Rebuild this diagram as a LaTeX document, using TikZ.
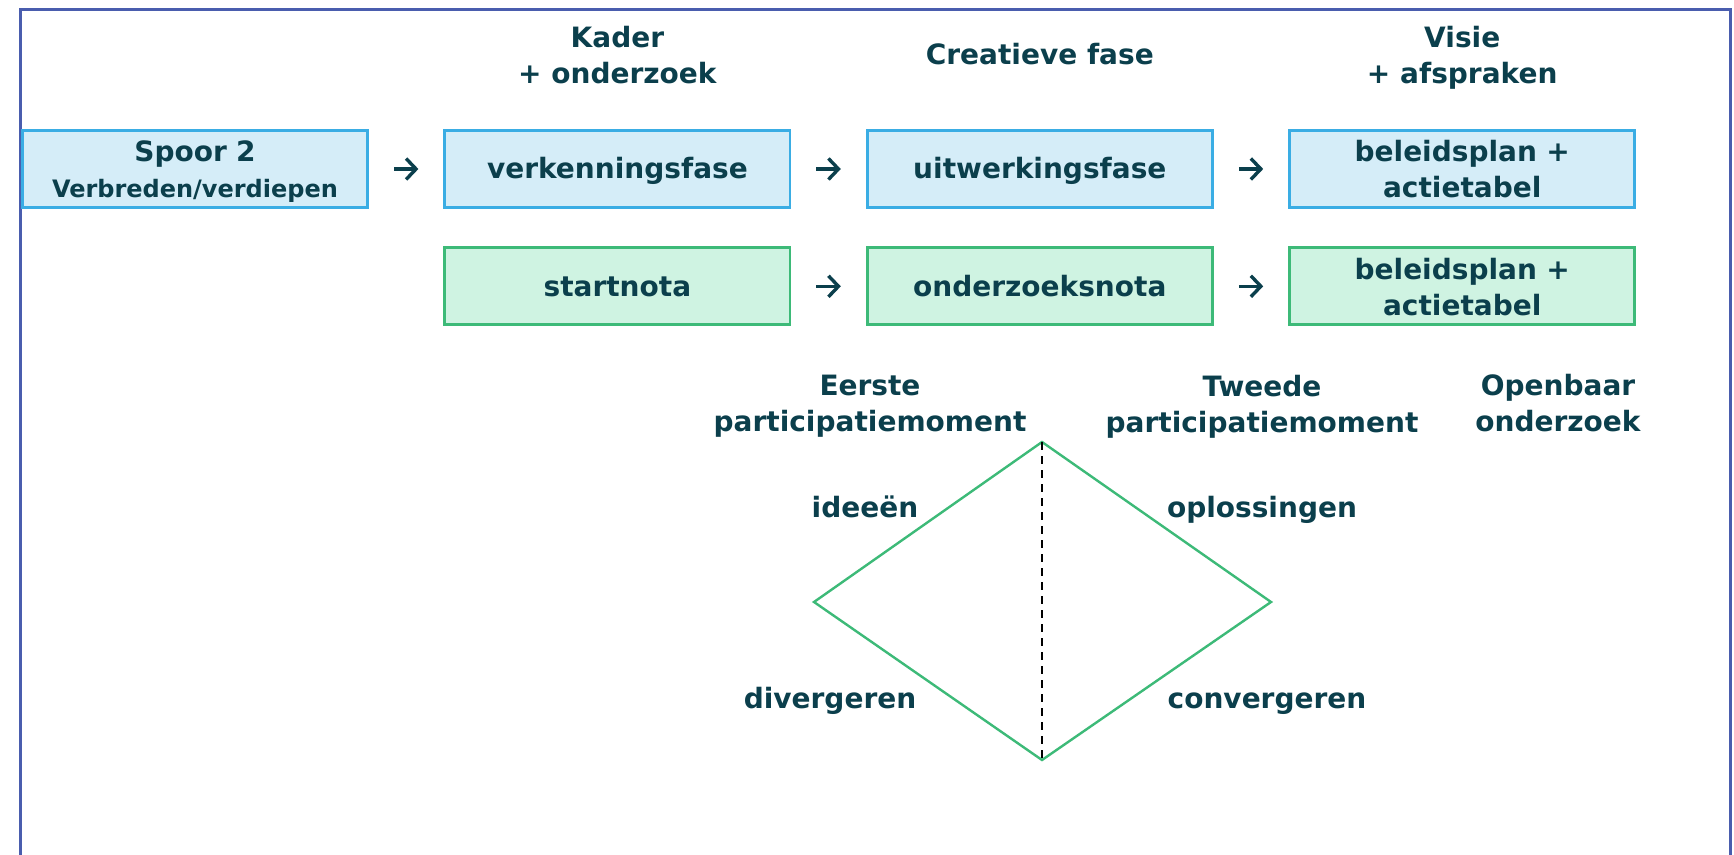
\documentclass[tikz,border=0pt]{standalone}
\usepackage{fontspec}
\setmainfont{DejaVu Sans}
\usepackage{xcolor}
\usepackage{tikz}
\usetikzlibrary{arrows.meta, positioning}
\definecolor{tealtext}{HTML}{0B3F4C}
\definecolor{blueline}{HTML}{3AADE4}
\definecolor{bluefill}{HTML}{D5EDF8}
\definecolor{greenline}{HTML}{3DBA78}
\definecolor{greenfill}{HTML}{CFF3E2}
\definecolor{framecol}{HTML}{4A5DAE}
\newcommand{\linestrut}{\rule[-3.5pt]{0pt}{17pt}}
\tikzset{
  phase/.style={rectangle, draw=blueline, fill=bluefill, line width=1.4pt,
                minimum width=172.6pt, minimum height=38.5pt, text width=165pt,
                align=center, inner sep=0pt, text=tealtext,
                font=\fontsize{14}{18}\selectfont\bfseries,
                text height=13.5pt, text depth=3.5pt},
  twoline/.style={text height=14.5pt, text depth=21.5pt},
  doc/.style={phase, draw=greenline, fill=greenfill},
  head/.style={align=center, inner sep=0pt, text=tealtext,
               font=\fontsize{14}{18}\selectfont\bfseries,
               execute at begin node=\linestrut, execute at end node=\linestrut},
  arrow/.style={-{Straight Barb[length=5pt, width=10.5pt]}, draw=tealtext,
                line width=1.7pt, shorten <=12.5pt, shorten >=12.5pt},
  diamondline/.style={draw=greenline, line width=1.2pt},
  midline/.style={draw=black, line width=1pt, dash pattern=on 4pt off 3pt},
}

\begin{document}
\begin{tikzpicture}[x=0.5pt, y=-0.5pt, node distance=18.75pt and 37.2pt]
  \useasboundingbox (0,0) rectangle (1734,855);
  % Frame (open at the bottom)
  \draw[draw=framecol, line width=1.5pt] (20,870) -- (20,10) -- (1730,10) -- (1730,870);

  % First row: phases
  \node[phase, twoline] (spoor) at (195,169) {Spoor 2\\{\fontsize{12}{15}\selectfont Verbreden/verdiepen}};
  \node[phase, right=of spoor] (verken) {verkenningsfase};
  \node[phase, right=of verken] (uitwerk) {uitwerkingsfase};
  \node[phase, twoline, right=of uitwerk] (plan) {beleidsplan +\\actietabel};

  % Second row: documents
  \node[doc, below=of verken] (start) {startnota};
  \node[doc, below=of uitwerk] (onderz) {onderzoeksnota};
  \node[doc, twoline, below=of plan] (plandoc) {beleidsplan +\\actietabel};

  % Headers
  \coordinate (headrow) at (0,58.5);
  \node[head] (kader) at (headrow -| verken) {Kader\\+ onderzoek};
  \node[head] (creatief) at ([yshift=2pt]headrow -| uitwerk) {Creatieve fase};
  \node[head] (visie) at (headrow -| plan) {Visie\\+ afspraken};

  % Arrows
  \draw[arrow] (spoor.east) -- (verken.west);
  \draw[arrow] (verken.east) -- (uitwerk.west);
  \draw[arrow] (uitwerk.east) -- (plan.west);
  \draw[arrow] (start.east) -- (onderz.west);
  \draw[arrow] (onderz.east) -- (plandoc.west);

  % Participation moments
  \node[head] (eerste) at (870,407) {Eerste\\participatiemoment};
  \node[head] (tweede) at (1262,407) {Tweede\\participatiemoment};
  \node[head] (openbaar) at (1558,406) {Openbaar\\onderzoek};

  % Diamond
  \coordinate (dtop) at (1042,442);
  \coordinate (dleft) at (814,602);
  \coordinate (dright) at (1271,602);
  \coordinate (dbottom) at (1042,760);
  \draw[diamondline] (dtop) -- (dright) -- (dbottom) -- (dleft) -- cycle;
  \draw[midline] (dtop) -- (dbottom);

  \node[head] (ideeen) at (865,507) {ideeën};
  \node[head] (oploss) at (1262,507) {oplossingen};
  \node[head] (diverg) at (830,698) {divergeren};
  \node[head] (converg) at (1267,698) {convergeren};
\end{tikzpicture}
\end{document}
